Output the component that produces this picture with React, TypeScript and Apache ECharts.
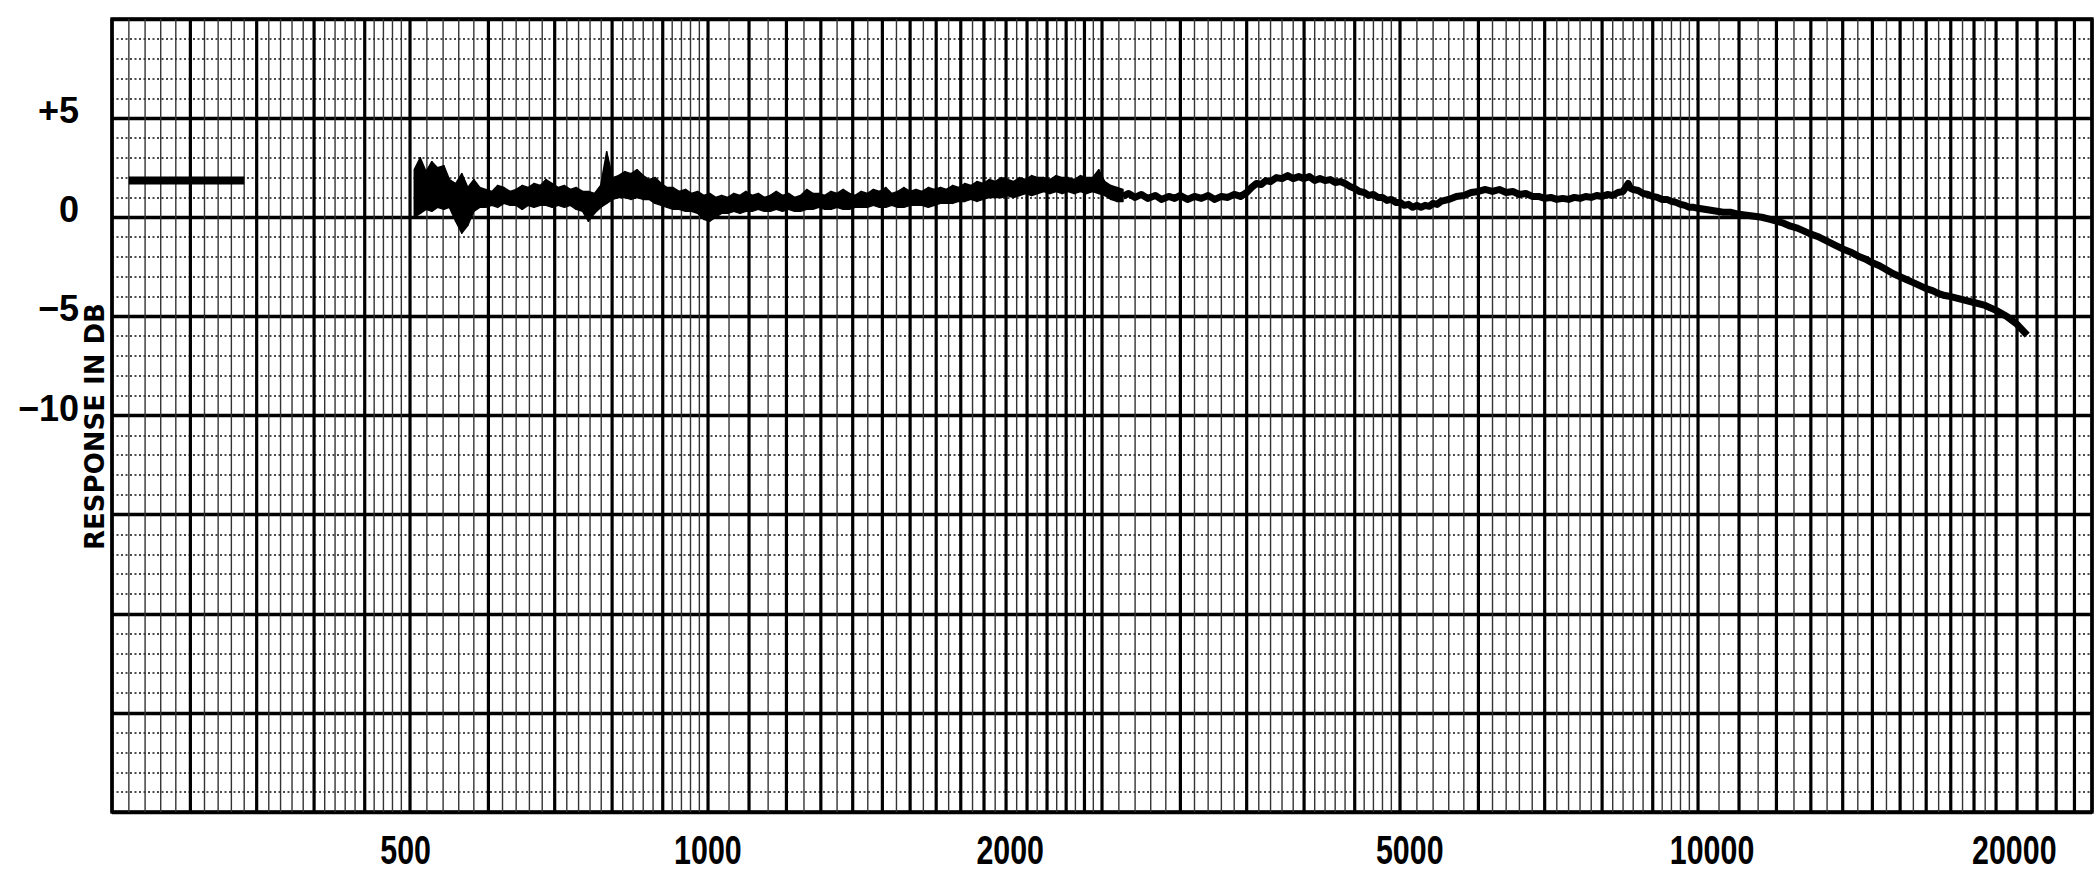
import React, { useEffect, useRef } from 'react';
import * as echarts from 'echarts';

const X_MIN = 250;
const X_MAX = 25000;
const Y_MIN = -30;
const Y_MAX = 10;

// the printed frequency legend runs on its own (slightly wider) log scale
const LABEL_SCALE_MIN = 255;
const LABEL_SCALE_MAX = 23900;

const xTickFreqs = [500, 1000, 2000, 5000, 10000, 20000];
const xTickLabels = ['500', '1000', '2000', '5000', '10000', '20000'];
const yTickValues = [5, 0, -5, -10];
const yTickLabels = ['+5', '0', '\u22125', '\u221210'];
const yAxisTitle = 'RESPONSE IN DB';

// chart-paper rulings: [from, to, step] in Hz
const heavyRulings = [
  [250, 500, 50], [500, 1000, 100], [1000, 2500, 100],
  [2500, 5000, 500], [5000, 10000, 1000], [10000, 25000, 1000],
];
const lightRulings = [
  [250, 500, 10], [500, 1000, 20], [1000, 2500, 50],
  [2500, 5000, 100], [5000, 10000, 200], [10000, 20000, 500],
];

// reference (calibration) mark
const refMarkFreqs = [260, 340];
const refMarkDb = [1.85, 1.85];

// noisy low/mid part of the trace: upper and lower edges of the pen band
const noisyFreq = [
  505, 512, 519, 526, 533, 541, 548, 556, 564, 572,
  580, 588, 596, 605, 613, 622, 631, 640, 649, 658,
  667, 677, 686, 696, 706, 716, 726, 736, 747, 757,
  768, 779, 790, 801, 812, 824, 836, 848, 860, 872,
  884, 897, 909, 922, 935, 949, 962, 976, 990, 1004,
  1018, 1032, 1047, 1062, 1077, 1092, 1108, 1124, 1140, 1156,
  1172, 1189, 1206, 1223, 1240, 1258, 1276, 1294, 1312, 1331,
  1350, 1369, 1389, 1408, 1428, 1449, 1469, 1490, 1512, 1533,
  1555, 1577, 1600, 1622, 1645, 1669, 1693, 1717, 1741, 1766,
  1791, 1817, 1843, 1869, 1896, 1923, 1950, 1978, 2006, 2035,
  2064, 2093, 2123, 2153, 2184, 2215, 2247, 2279, 2311, 2344,
  2378, 2412, 2446, 2481, 2516, 2552, 2588, 2625,
];
const noisyHi = [
  2.4, 3.0, 2.3, 2.8, 2.5, 2.6, 1.9, 1.7, 2.2, 1.5,
  1.9, 1.5, 1.4, 1.3, 1.6, 1.5, 1.3, 1.4, 1.6, 1.5,
  1.7, 1.6, 1.9, 1.7, 1.5, 1.6, 1.4, 1.5, 1.3, 1.3,
  1.2, 1.6, 3.3, 2.0, 2.1, 2.3, 2.2, 2.4, 2.1, 1.9,
  2.0, 1.7, 1.5, 1.5, 1.3, 1.4, 1.2, 1.3, 1.1, 1.2,
  1.0, 1.1, 1.0, 1.2, 1.1, 1.3, 1.1, 1.2, 1.0, 1.1,
  1.3, 1.1, 1.2, 1.0, 1.1, 1.4, 1.2, 1.2, 1.1, 1.3,
  1.2, 1.4, 1.2, 1.1, 1.3, 1.2, 1.4, 1.3, 1.5, 1.2,
  1.3, 1.5, 1.3, 1.4, 1.3, 1.5, 1.4, 1.5, 1.4, 1.6,
  1.5, 1.7, 1.6, 1.8, 1.7, 1.9, 1.8, 2.0, 1.9, 1.8,
  2.0, 1.9, 2.1, 2.0, 2.0, 1.9, 2.1, 2.0, 2.0, 1.9,
  2.1, 2.0, 2.0, 2.4, 1.8, 1.6, 1.5, 1.4,
];
const noisyLo = [
  0.0, 0.2, 0.4, 0.3, 0.5, 0.4, 0.5, -0.2, -0.8, -0.4,
  0.3, 0.5, 0.5, 0.6, 0.5, 0.7, 0.6, 0.6, 0.4, 0.6,
  0.5, 0.6, 0.6, 0.5, 0.6, 0.5, 0.6, 0.4, 0.3, -0.2,
  0.2, 0.5, 0.7, 0.9, 1.0, 1.0, 0.9, 1.0, 0.9, 0.9,
  0.7, 0.6, 0.5, 0.4, 0.4, 0.3, 0.3, 0.2, -0.1, -0.2,
  0.0, 0.2, 0.2, 0.3, 0.2, 0.3, 0.3, 0.4, 0.3, 0.3,
  0.4, 0.3, 0.4, 0.3, 0.3, 0.4, 0.4, 0.5, 0.4, 0.4,
  0.5, 0.4, 0.4, 0.5, 0.5, 0.5, 0.6, 0.5, 0.5, 0.6,
  0.5, 0.5, 0.6, 0.6, 0.6, 0.5, 0.6, 0.7, 0.7, 0.7,
  0.8, 0.8, 0.9, 0.8, 0.9, 1.0, 1.0, 1.0, 1.1, 1.0,
  1.1, 1.2, 1.1, 1.2, 1.3, 1.2, 1.3, 1.2, 1.3, 1.2,
  1.3, 1.2, 1.3, 1.2, 1.1, 0.9, 0.8, 0.8,
];

// smoother upper part of the trace
const smoothFreq = [
  2625, 2660, 2700, 2740, 2780, 2830, 2870, 2920, 2960, 3000,
  3050, 3100, 3150, 3200, 3250, 3300, 3350, 3400, 3450, 3500,
  3540, 3580, 3620, 3660, 3700, 3750, 3800, 3850, 3900, 3950,
  4000, 4050, 4100, 4150, 4200, 4250, 4300, 4350, 4400, 4450,
  4500, 4550, 4600, 4650, 4700, 4750, 4800, 4850, 4900, 4950,
  5000, 5050, 5100, 5150, 5200, 5250, 5300, 5350, 5400, 5450,
  5500, 5600, 5700, 5800, 5900, 6000, 6100, 6200, 6300, 6400,
  6500, 6600, 6700, 6800, 6900, 7000, 7100, 7200, 7300, 7400,
  7500, 7600, 7700, 7800, 7900, 8000, 8100, 8200, 8300, 8400,
  8450, 8500, 8550, 8600, 8700, 8800, 8900, 9000, 9100, 9200,
  9300, 9400, 9500, 9600, 9700, 9800, 9900, 10000, 10150, 10300,
  10450, 10600, 10800, 11000, 11200, 11400, 11600, 11800, 12000, 12200,
  12400, 12600, 12800, 13000, 13250, 13500, 13750, 14000, 14250, 14500,
  14750, 15000, 15250, 15500, 15750, 16000, 16250, 16500, 16750, 17000,
  17250, 17500, 17750, 18000, 18500, 19000, 19500, 20000, 20500, 21000,
  21500,
];
const smoothDb = [
  1.05, 1.2, 1.0, 1.15, 0.95, 1.1, 0.9, 1.05, 0.95, 1.1,
  0.9, 1.05, 0.95, 1.1, 0.9, 1.05, 1.0, 1.15, 1.05, 1.25,
  1.5, 1.7, 1.65, 1.85, 1.8, 2.0, 1.95, 2.1, 1.95, 2.05,
  1.95, 2.05, 1.85, 1.95, 1.85, 1.9, 1.75, 1.8, 1.7, 1.55,
  1.45, 1.3, 1.25, 1.1, 1.15, 1.0, 1.0, 0.85, 0.9, 0.75,
  0.75, 0.6, 0.65, 0.5, 0.6, 0.5, 0.6, 0.55, 0.7, 0.65,
  0.8, 0.9, 1.05, 1.1, 1.25, 1.3, 1.4, 1.3, 1.4, 1.25,
  1.3, 1.15, 1.2, 1.05, 1.05, 0.95, 1.0, 0.9, 0.95, 0.9,
  1.0, 0.95, 1.05, 1.0, 1.1, 1.05, 1.15, 1.1, 1.25, 1.3,
  1.5, 1.7, 1.45, 1.4, 1.35, 1.2, 1.15, 1.05, 1.0, 0.9,
  0.9, 0.8, 0.75, 0.65, 0.6, 0.5, 0.5, 0.45, 0.4, 0.35,
  0.3, 0.25, 0.25, 0.15, 0.1, 0.05, 0.0, -0.1, -0.2, -0.3,
  -0.45, -0.55, -0.7, -0.85, -1.0, -1.2, -1.4, -1.6, -1.75, -1.95,
  -2.1, -2.3, -2.45, -2.65, -2.85, -3.0, -3.15, -3.3, -3.45, -3.6,
  -3.7, -3.85, -3.95, -4.0, -4.15, -4.3, -4.45, -4.7, -5.0, -5.4,
  -5.95,
];

const FONT = "'Liberation Sans', Arial, sans-serif";
const TITLE_FONT = "'DejaVu Sans', 'Liberation Sans', sans-serif";

function expandRulings(specs: number[][]): number[] {
  const out: number[] = [];
  specs.forEach(([a, b, s]) => {
    for (let f = a; f <= b; f += s) out.push(f);
  });
  return Array.from(new Set(out));
}

export default function App() {
  const ref = useRef<HTMLDivElement>(null);

  useEffect(() => {
    document.body.style.margin = '0';
    if (!ref.current) return;
    const chart = echarts.init(ref.current, undefined, { renderer: 'svg' });

    const heavy = expandRulings(heavyRulings);
    const heavySet = new Set(heavy);
    const light = expandRulings(lightRulings).filter((f) => !heavySet.has(f));

    const ruling = (freqs: number[], color: string, width: number, z: number) => ({
      type: 'custom',
      coordinateSystem: 'cartesian2d',
      silent: true,
      clip: false,
      z,
      data: freqs.map((f) => [f, Y_MIN]),
      encode: { x: 0, y: 1 },
      renderItem: (params: any, api: any) => {
        const f = api.value(0);
        const a = api.coord([f, Y_MAX]);
        const b = api.coord([f, Y_MIN]);
        return {
          type: 'line',
          shape: { x1: a[0], y1: a[1], x2: b[0], y2: b[1] },
          style: { stroke: color, lineWidth: width },
        };
      },
    });

    const option: any = {
      animation: false,
      backgroundColor: '#fff',
      grid: {
        left: 112,
        top: 19,
        width: 1980,
        height: 793,
        show: true,
        borderColor: '#000',
        borderWidth: 3.4,
        outerBoundsMode: 'none',
      },
      xAxis: [
        {
          type: 'log',
          logBase: 10,
          min: X_MIN,
          max: X_MAX,
          axisLine: { show: false },
          axisTick: { show: false },
          axisLabel: { show: false },
          splitLine: { show: false },
        },
        {
          type: 'log',
          logBase: 10,
          min: LABEL_SCALE_MIN,
          max: LABEL_SCALE_MAX,
          show: false,
          splitLine: { show: false },
        },
      ],
      yAxis: {
        type: 'value',
        min: Y_MIN,
        max: Y_MAX,
        interval: 5,
        axisLine: { show: false },
        axisTick: { show: false },
        axisLabel: {
          formatter: (v: number) => {
            const i = yTickValues.indexOf(v);
            return i >= 0 ? yTickLabels[i] : '';
          },
          color: '#000',
          fontSize: 36,
          fontWeight: 'bold',
          fontFamily: FONT,
          margin: 33,
          verticalAlign: 'bottom',
          lineHeight: 15,
        },
        splitLine: { show: true, lineStyle: { color: '#000', width: 3.4 } },
        minorTick: { show: false, splitNumber: 5 },
        minorSplitLine: { show: true, lineStyle: { color: '#111', width: 1.6, type: [2, 2.5] } },
        name: yAxisTitle,
        nameLocation: 'middle',
        nameRotate: 90,
        nameGap: 4,
        nameMoveOverlap: false,
        nameTextStyle: {
          color: '#000',
          fontSize: 26,
          fontWeight: 'bold',
          fontFamily: TITLE_FONT,
          padding: [0, 22, 0, 0],
        },
      },
      series: [
        ruling(light, '#333', 1.4, 1),
        ruling(heavy, '#000', 3.2, 2),
        {
          type: 'custom',
          coordinateSystem: 'cartesian2d',
          silent: true,
          z: 5,
          data: noisyFreq.slice(0, -1).map((f, i) => [f, noisyHi[i]]),
          encode: { x: 0, y: 1 },
          renderItem: (params: any, api: any) => {
            const i = params.dataIndex;
            const p1 = api.coord([noisyFreq[i], noisyHi[i]]);
            const p2 = api.coord([noisyFreq[i + 1], noisyHi[i + 1]]);
            const p3 = api.coord([noisyFreq[i + 1], noisyLo[i + 1]]);
            const p4 = api.coord([noisyFreq[i], noisyLo[i]]);
            return {
              type: 'polygon',
              shape: { points: [p1, p2, p3, p4] },
              style: { fill: '#000', stroke: '#000', lineWidth: 1.5, lineJoin: 'round' },
            };
          },
        },
        {
          type: 'line',
          silent: true,
          z: 5,
          symbol: 'none',
          data: smoothFreq.map((f, i) => [f, smoothDb[i]]),
          lineStyle: { color: '#000', width: 7, join: 'round' },
        },
        {
          type: 'line',
          silent: true,
          z: 5,
          symbol: 'none',
          data: refMarkFreqs.map((f, i) => [f, refMarkDb[i]]),
          lineStyle: { color: '#000', width: 8 },
        },
        {
          type: 'custom',
          coordinateSystem: 'cartesian2d',
          xAxisIndex: 1,
          silent: true,
          clip: false,
          z: 10,
          data: xTickFreqs.map((f) => [f, Y_MIN]),
          encode: { x: 0, y: 1 },
          renderItem: (params: any, api: any) => {
            const i = params.dataIndex;
            const p = api.coord([api.value(0), Y_MIN]);
            return {
              type: 'text',
              x: p[0],
              y: p[1] + 38,
              scaleX: 0.76,
              style: {
                text: xTickLabels[i],
                x: 0,
                y: 0,
                fill: '#000',
                fontSize: 40,
                fontWeight: 'bold',
                fontFamily: FONT,
                align: 'center',
                verticalAlign: 'middle',
              },
            };
          },
        },
      ],
    };

    chart.setOption(option);
    return () => chart.dispose();
  }, []);

  return <div ref={ref} style={{ width: '2096px', height: '873px' }} />;
}
